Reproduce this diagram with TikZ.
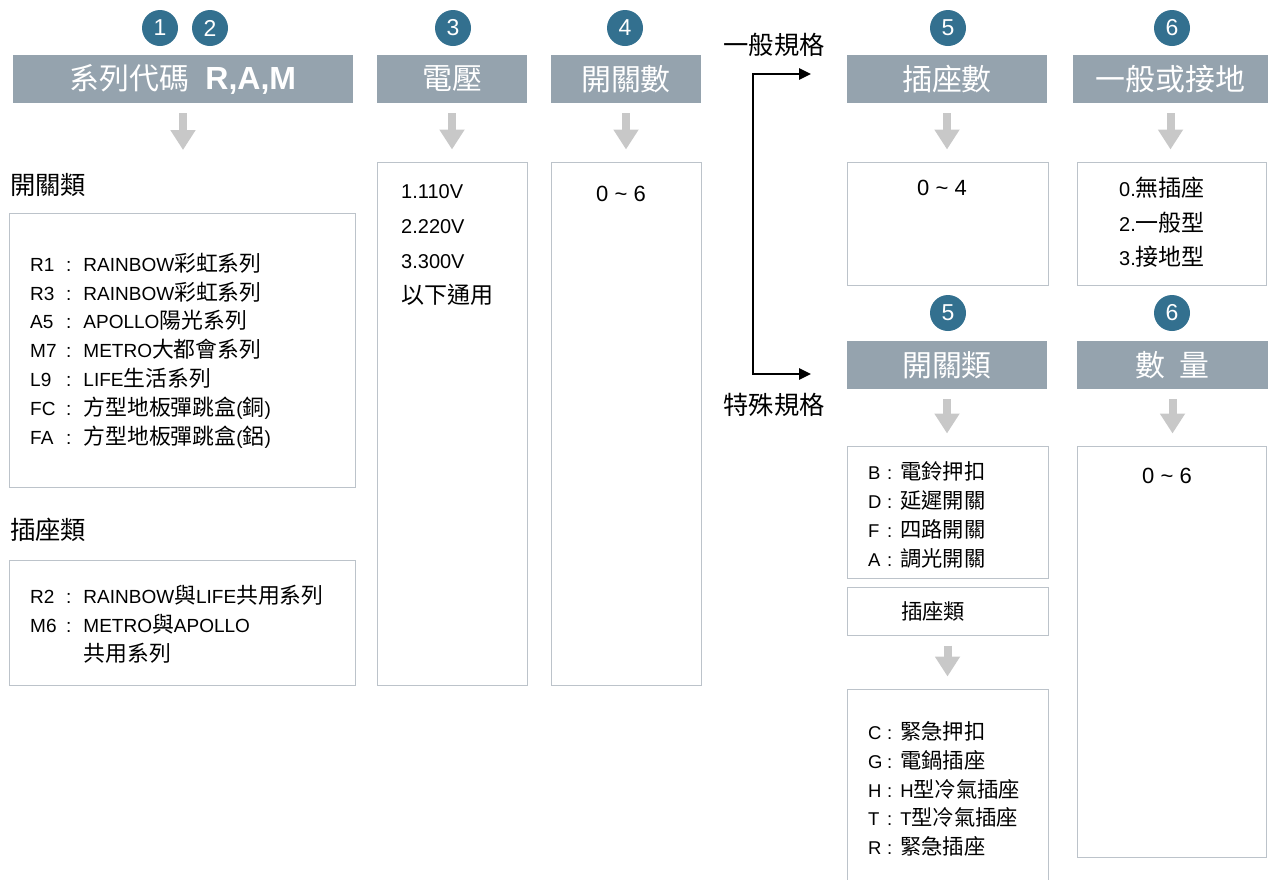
\documentclass[tikz,border=0pt]{standalone}
\usepackage{fontspec}
\setmainfont{Liberation Sans}
\newfontfamily\cjk[Scale=1.15]{Noto Sans CJK TC}
\usetikzlibrary{arrows.meta}

\definecolor{numblue}{RGB}{51,112,143}
\definecolor{bargray}{RGB}{149,163,174}
\definecolor{boxline}{RGB}{188,195,202}
\definecolor{arrgray}{RGB}{200,200,200}

\newcommand{\zh}[1]{{\cjk #1}}
\newcommand{\lkey}[1]{\makebox[36pt][l]{#1}:\hspace{12pt}}
\newcommand{\rkey}[1]{\makebox[19pt][l]{#1}:\hspace{8pt}}

\tikzset{
  num/.style={circle, fill=numblue, text=white, minimum size=36pt, inner sep=0pt,
    font=\fontsize{23}{23}\selectfont},
  bar/.style={fill=bargray, text=white, minimum height=48pt, inner sep=0pt,
    font=\cjk\fontsize{26}{26}\selectfont},
  box/.style={draw=boxline, line width=1pt, inner sep=0pt},
  item/.style={align=left, inner sep=0pt, anchor=west, font=\fontsize{19}{28.8}\selectfont},
  val/.style={inner sep=0pt, font=\fontsize{22}{22}\selectfont},
  side/.style={inner sep=0pt, font=\cjk\fontsize{22}{22}\selectfont},
  down/.style={arrgray, line width=8pt, -{Triangle[width=24pt,length=20pt]},
    shorten <=10pt, shorten >=12pt},
  fork/.style={line width=2.5pt,
    {Triangle[width=11pt,length=12pt]}-{Triangle[width=11pt,length=12pt]}}
}

\begin{document}
\begin{tikzpicture}[x=1pt,y=-1pt]
\useasboundingbox (0,0) rectangle (1268,879);

% numbered circles
\foreach \n/\x/\y in {1/160/28, 2/210/28, 3/453/28, 4/625/28, 5/948/28, 6/1172/28}
	\node[num] (n\n) at (\x,\y) {\n};
\node[num] (m5) at (948,313) {5};
\node[num] (m6) at (1172,313) {6};

% header bars
\node[bar, minimum width=340pt] (h12) at (183,79) {系列代碼\hspace{16pt}{\rmfamily\bfseries\fontsize{32}{32}\selectfont R,A,M}};
\node[bar, minimum width=150pt] (h3) at (452,79) {電壓};
\node[bar, minimum width=150pt] (h4) at (626,79) {開關數};
\node[bar, minimum width=200pt] (h5) at (947,79) {插座數};
\node[bar, minimum width=195pt] (h6) at (1170.5,79) {一般或接地};
\node[bar, minimum width=200pt] (k5) at (947,365) {開關類};
\node[bar, minimum width=191pt] (k6) at (1172.5,365) {數\hspace{0.5em}量};

% boxes
\node[box, minimum width=346pt, minimum height=274pt] (b1) at (182,350) {};
\node[box, minimum width=346pt, minimum height=125pt] (b2) at (182,622.5) {};
\node[box, minimum width=150pt, minimum height=523pt] (b3) at (452,423.5) {};
\node[box, minimum width=150pt, minimum height=523pt] (b4) at (626,423.5) {};
\node[box, minimum width=201pt, minimum height=123pt] (b5) at (947.5,223.5) {};
\node[box, minimum width=189pt, minimum height=123pt] (b6) at (1171.5,223.5) {};
\node[box, minimum width=201pt, minimum height=132pt] (c5) at (947.5,512) {};
\node[box, minimum width=201pt, minimum height=48pt] (c5s) at (947.5,611) {};
\node[box, minimum width=201pt, minimum height=200pt] (c5d) at (947.5,789) {};
\node[box, minimum width=189pt, minimum height=411pt] (c6) at (1171.5,651.5) {};

% gray arrows
\coordinate (a12) at (183,162);
\draw[down] (h12.south) -- (a12);
\foreach \a/\b in {h3/b3, h4/b4, h5/b5, h6/b6, k5/c5, k6/c6, c5s/c5d}
	\draw[down] (\a.south) -- (\a.south |- \b.north);

% side labels
\node[side, anchor=west] (s1) at (10,185) {開關類};
\node[side, anchor=west] (s2) at (10,530) {插座類};
\node[side] (g1) at (774,45) {一般規格};
\node[side] (g2) at (774,405) {特殊規格};

\coordinate (ftop) at (753,74);
\coordinate (fbot) at (753,374);
\coordinate (gtip) at (811,74);
\coordinate (stip) at (811,374);
\draw[fork] (gtip) -- (ftop) -- (fbot) -- (stip);

% box texts
\node[item] (t1) at (30,350.5) {\lkey{R1}RAINBOW\zh{彩虹系列}\\
	\lkey{R3}RAINBOW\zh{彩虹系列}\\
	\lkey{A5}APOLLO\zh{陽光系列}\\
	\lkey{M7}METRO\zh{大都會系列}\\
	\lkey{L9}LIFE\zh{生活系列}\\
	\lkey{FC}\zh{方型地板彈跳盒}(\zh{銅})\\
	\lkey{FA}\zh{方型地板彈跳盒}(\zh{鋁})};
\node[item] (t2) at (30,624.5) {\lkey{R2}RAINBOW\zh{與}LIFE\zh{共用系列}\\
	\lkey{M6}METRO\zh{與}APOLLO\\
	\hspace*{53.3pt}\zh{共用系列}};
\node[item, font=\fontsize{20}{35}\selectfont] (t3) at (401,244.5) {1.110V\\2.220V\\3.300V\\\zh{以下通用}};
\node[val] (t4) at (621,194) {0 \textasciitilde{} 6};
\node[val] (t5) at (942,188) {0 \textasciitilde{} 4};
\node[item, font=\fontsize{20}{34.5}\selectfont] (t6) at (1119,222.5) {0.\zh{無插座}\\2.\zh{一般型}\\3.\zh{接地型}};
\node[item, font=\fontsize{18.5}{28.8}\selectfont] (u5) at (868,515) {\rkey{B}\zh{電鈴押扣}\\
	\rkey{D}\zh{延遲開關}\\
	\rkey{F}\zh{四路開關}\\
	\rkey{A}\zh{調光開關}};
\node[inner sep=0pt, font=\cjk\fontsize{18.5}{18.5}\selectfont] (u5s) at (933,611) {插座類};
\node[item, font=\fontsize{18.5}{28.8}\selectfont] (u5d) at (868,789) {\rkey{C}\zh{緊急押扣}\\
	\rkey{G}\zh{電鍋插座}\\
	\rkey{H}H\zh{型冷氣插座}\\
	\rkey{T}T\zh{型冷氣插座}\\
	\rkey{R}\zh{緊急插座}};
\node[val] (u6) at (1167,476) {0 \textasciitilde{} 6};
\end{tikzpicture}
\end{document}
